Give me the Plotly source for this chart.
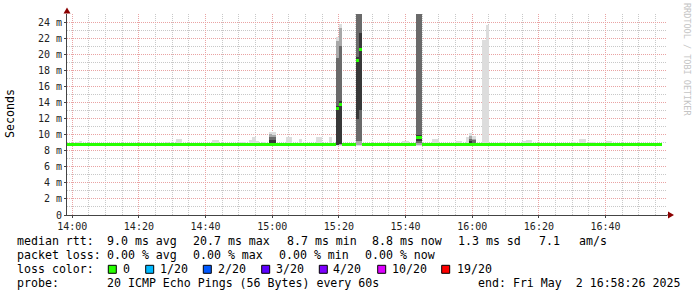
import pandas as pd
import plotly.graph_objects as go

# ---------------- data ----------------
DAY = "2025-05-02 "
# per-minute median RTT (ms) starting at 13:58
median_start = "13:58"
median_rtt = [
    8.8, 8.8,
    8.8, 8.8, 8.8, 8.8, 8.8, 8.8, 8.8, 8.8, 8.75, 8.75,   # 14:00
    8.75, 8.8, 8.8, 8.8, 8.8, 8.8, 8.8, 8.8, 8.8, 8.75,   # 14:10
    8.8, 8.8, 8.8, 8.8, 8.8, 8.8, 8.8, 8.8, 8.8, 8.8,   # 14:20
    8.8, 8.8, 8.8, 8.8, 8.8, 8.8, 8.8, 8.8, 8.8, 8.8,   # 14:30
    8.8, 8.8, 8.8, 8.8, 8.8, 8.8, 8.8, 8.8, 8.8, 8.8,   # 14:40
    8.8, 8.8, 8.8, 8.8, 8.8, 8.8, 8.8, 8.8, 8.8, 8.75,  # 14:50
    8.75, 8.8, 8.8, 8.8, 8.8, 8.8, 8.8, 8.8, 8.8, 8.8,  # 15:00
    8.8, 8.8, 8.8, 8.8, 8.8, 8.8, 8.8, 8.8, 8.8, 13.3,  # 15:10
    13.8, 8.8, 8.8, 8.8, 8.8, 19.2, 20.6, 8.8, 8.8, 8.8,  # 15:20
    8.8, 8.8, 8.8, 8.8, 8.8, 8.8, 8.8, 8.8, 8.8, 8.8,   # 15:30
    8.8, 8.8, 8.8, 9.6, 9.6, 8.8, 8.8, 8.8, 8.8, 8.8,   # 15:40
    8.8, 8.8, 8.8, 8.8, 8.8, 8.8, 8.8, 8.8, 8.8, 8.8,   # 15:50
    8.8, 8.8, 8.8, 8.8, 8.8, 8.8, 8.8, 8.8, 8.8, 8.8,   # 16:00
    8.8, 8.8, 8.8, 8.8, 8.8, 8.8, 8.8, 8.8, 8.8, 8.8,   # 16:10
    8.8, 8.8, 8.8, 8.8, 8.8, 8.8, 8.8, 8.8, 8.8, 8.8,   # 16:20
    8.8, 8.8, 8.8, 8.8, 8.8, 8.8, 8.8, 8.8, 8.8, 8.8,   # 16:30
    8.8, 8.8, 8.8, 8.8, 8.8, 8.8, 8.8, 8.8, 8.8, 8.8,   # 16:40
    8.8, 8.8, 8.8, 8.8, 8.8, 8.8, 8.8,                  # 16:50
]

# smoke (ping spread) for minutes that stick out of the median line
smoke_time = ["14:01", "14:02", "14:28", "14:31", "14:32", "14:42", "14:43", "14:50", "14:51",
              "14:53", "14:54", "14:55", "14:57", "14:59", "15:00", "15:04", "15:05", "15:08",
              "15:13", "15:14", "15:17", "15:19", "15:20", "15:25", "15:26", "15:39", "15:40",
              "15:43", "15:44", "15:48", "15:49", "15:55", "15:56", "15:58", "15:59", "16:00",
              "16:03", "16:04", "16:08", "16:09", "16:15", "16:16", "16:17", "16:30", "16:32",
              "16:33", "16:35", "16:36", "16:40", "16:41"]
smoke_min = [8.7, 8.7, 8.7, 8.7, 8.7, 8.7, 8.7, 8.7, 8.7,
             8.7, 8.7, 8.7, 8.7, 8.6, 8.6, 8.7, 8.7, 8.7,
             8.7, 8.7, 8.7, 8.6, 8.6, 8.6, 8.6, 8.7, 8.7,
             8.6, 8.6, 8.7, 8.7, 8.7, 8.7, 8.7, 8.6, 8.6,
             8.7, 8.7, 8.7, 8.7, 8.7, 8.7, 8.7, 8.7, 8.7,
             8.7, 8.7, 8.7, 8.7, 8.7]
smoke_max = [9.1, 9.2, 9.1, 9.45, 9.45, 9.3, 9.3, 9.1, 9.1,
             9.3, 9.65, 9.2, 9.1, 10.3, 10.3, 9.65, 9.65, 9.5,
             9.75, 9.65, 9.65, 22.1, 23.7, 30.0, 30.0, 9.2, 9.2,
             30.0, 30.0, 9.5, 9.4, 9.25, 9.25, 9.75, 10.2, 9.8,
             21.8, 23.6, 9.05, 9.05, 9.2, 9.3, 9.3, 9.1, 9.45,
             9.45, 9.1, 9.1, 9.2, 9.2]
# inner smoke layers, keyed by minute
mid_lo = {"14:59": 8.7, "15:00": 8.7, "15:19": 8.7, "15:20": 8.7, "15:25": 8.7, "15:26": 8.7,
          "15:43": 8.7, "15:44": 8.7, "15:59": 8.7, "16:00": 8.7}
mid_hi = {"14:59": 10.1, "15:00": 10.0, "15:19": 21.6, "15:20": 23.2, "15:25": 30.0, "15:26": 30.0,
          "15:43": 30.0, "15:44": 30.0, "15:59": 9.85, "16:00": 9.5}
inner_lo = {"14:59": 8.8, "15:00": 8.8, "15:19": 8.7, "15:20": 8.8, "15:25": 9.2, "15:26": 9.2,
            "15:43": 8.9, "15:44": 8.9, "15:59": 8.9, "16:00": 8.9}
inner_hi = {"14:59": 9.7, "15:00": 9.7, "15:19": 19.5, "15:20": 21.0, "15:25": 27.0, "15:26": 27.5,
            "15:43": 30.0, "15:44": 30.0, "15:59": 9.45, "16:00": 9.35}
core_lo = {"14:59": 9.0, "15:00": 9.0, "15:19": 8.7, "15:20": 8.8, "15:25": 12.0, "15:26": 13.0,
           "15:43": 9.2, "15:44": 9.2, "15:59": 9.0}
core_hi = {"14:59": 9.3, "15:00": 9.3, "15:19": 13.6, "15:20": 14.2, "15:25": 19.6, "15:26": 22.6,
           "15:43": 10.0, "15:44": 10.0, "15:59": 9.25}

y_tick_vals = [0, 2, 4, 6, 8, 10, 12, 14, 16, 18, 20, 22, 24]
y_tick_text = ["0", "2 m", "4 m", "6 m", "8 m", "10 m", "12 m", "14 m", "16 m", "18 m", "20 m", "22 m", "24 m"]
x_range = ["2025-05-02 13:58:26", "2025-05-02 16:58:26"]

loss_labels = ["0", "1/20", "2/20", "3/20", "4/20", "10/20", "19/20"]
loss_colors = ["#26ff00", "#00b8ff", "#0059ff", "#5e00ff", "#7e00ff", "#dd00ff", "#ff0000"]

legend_rows = [
    [("median rtt:", 16.7), ("9.0 ms avg", 107.3), ("20.7 ms max", 193.3), ("8.7 ms min", 286.7),
     ("8.8 ms now", 372.3), ("1.3 ms sd", 458.3), ("7.1", 539.0), ("am/s", 579.3)],
    [("packet loss:", 16.7), ("0.00 % avg", 107.3), ("0.00 % max", 193.3), ("0.00 % min", 279.3),
     ("0.00 % now", 365.0)],
    [("loss color:", 16.7)],
    [("probe:", 16.7), ("20 ICMP Echo Pings (56 Bytes) every 60s", 107.3),
     ("end: Fri May  2 16:58:26 2025", 478.3)],
]
loss_text_x = [123.3, 160.0, 218.3, 276.0, 333.3, 392.3, 456.7]
loss_box_x = [108.3, 145.7, 203.3, 261.7, 319.3, 377.7, 441.7]
row_y = [241.3, 254.7, 269.3, 283.2]

# ---------------- geometry helpers ----------------
W, H = 697, 297
L, R, T, B = 67, 30, 14, 82
PW, PH = W - L - R, H - T - B


def px(x):
    return (x - L) / PW


def py(y):
    return (H - B - y) / PH


HALF = pd.Timedelta(seconds=30)


def tcenter(hhmm):
    return pd.Timestamp(DAY + hhmm) + HALF


fig = go.Figure()


def add_layer(times, lo, hi, color):
    xs, bases, hs = [], [], []
    for t, a, b in zip(times, lo, hi):
        if a is None or b is None:
            continue
        xs.append(tcenter(t))
        bases.append(a)
        hs.append(b - a)
    fig.add_trace(go.Bar(x=xs, y=hs, base=bases, width=60000, marker=dict(color=color, line=dict(width=0)),
                         hoverinfo="skip", showlegend=False))


add_layer(smoke_time, smoke_min, smoke_max, "#dddddd")
add_layer(smoke_time, [mid_lo.get(t) for t in smoke_time], [mid_hi.get(t) for t in smoke_time], "#a8a8a8")
add_layer(smoke_time, [inner_lo.get(t) for t in smoke_time], [inner_hi.get(t) for t in smoke_time], "#6a6a6a")
add_layer(smoke_time, [core_lo.get(t) for t in smoke_time], [core_hi.get(t) for t in smoke_time], "#383838")

# median band
med_times = pd.date_range(DAY + median_start, periods=len(median_rtt), freq="min") + HALF
band = 0.19
fig.add_trace(go.Bar(x=med_times, y=[2 * band] * len(median_rtt), base=[m - band for m in median_rtt],
                     width=60000, marker=dict(color=loss_colors[0], line=dict(width=0)),
                     hoverinfo="skip", showlegend=False))

MONO = "DejaVu Sans Mono"
AXC = "#444444"
fig.update_layout(
    width=W, height=H, margin=dict(l=L, r=R, t=T, b=B, autoexpand=False),
    paper_bgcolor="white", plot_bgcolor="white",
    barmode="overlay", bargap=0, showlegend=False,
    font=dict(family=MONO, size=10, color="#222222"),
)
fig.update_xaxes(
    type="date", range=x_range, automargin=False,
    tick0="2025-05-02 14:00", dtick=20 * 60 * 1000, tickformat="%H:%M",
    showgrid=True, gridcolor="#e9a3a3", griddash="1px,1px", gridwidth=1,
    minor=dict(dtick=5 * 60 * 1000, tick0="2025-05-02 14:00", showgrid=True, gridcolor="#c8c8c8",
               griddash="1px,1px", gridwidth=1),
    showline=True, linecolor=AXC, linewidth=1,
    ticks="outside", ticklen=2, tickcolor=AXC,
    tickfont=dict(family=MONO, size=10, color="#222222"),
    zeroline=False, fixedrange=True,
)
fig.update_yaxes(
    range=[0, 25], automargin=False,
    tickmode="array", tickvals=y_tick_vals, ticktext=y_tick_text,
    showgrid=True, gridcolor="#e9a3a3", griddash="1px,1px", gridwidth=1,
    minor=dict(dtick=1, tick0=0, showgrid=True, gridcolor="#c8c8c8", griddash="1px,1px", gridwidth=1),
    showline=True, linecolor=AXC, linewidth=1,
    ticks="outside", ticklen=2, tickcolor=AXC,
    tickfont=dict(family=MONO, size=10, color="#222222"),
    zeroline=False, fixedrange=True,
)

shapes = []
# axis arrows
shapes.append(dict(type="path", xref="paper", yref="paper",
                   path=f"M {px(63.5)},{py(13.5)} L {px(70.5)},{py(13.5)} L {px(67)},{py(7.5)} Z",
                   fillcolor="#8b0000", line=dict(width=0)))
shapes.append(dict(type="path", xref="paper", yref="paper",
                   path=f"M {px(668)},{py(211.5)} L {px(668)},{py(218.5)} L {px(674)},{py(215)} Z",
                   fillcolor="#8b0000", line=dict(width=0)))
shapes.append(dict(type="line", xref="paper", yref="paper", x0=px(667), x1=px(668), y0=py(215), y1=py(215),
                   line=dict(color=AXC, width=1)))
# loss color boxes
for bx, col in zip(loss_box_x, loss_colors):
    shapes.append(dict(type="rect", xref="paper", yref="paper",
                       x0=px(bx), x1=px(bx + 8), y0=py(row_y[2] - 4), y1=py(row_y[2] + 4),
                       fillcolor=col, line=dict(color="#000000", width=1)))

ann = []
TXT = dict(family=MONO, size=11.6, color="#000000")
for row, yv in zip(legend_rows, row_y):
    for text, xv in row:
        ann.append(dict(text=text, x=px(xv - 1), y=py(yv), xref="paper", yref="paper",
                        xanchor="left", yanchor="middle", showarrow=False, font=TXT, borderpad=0))
for text, xv in zip(loss_labels, loss_text_x):
    ann.append(dict(text=text, x=px(xv - 1), y=py(row_y[2]), xref="paper", yref="paper",
                    xanchor="left", yanchor="middle", showarrow=False, font=TXT, borderpad=0))
ann.append(dict(text="Seconds", x=px(10), y=py(114), xref="paper", yref="paper", textangle=-90,
                xanchor="center", yanchor="middle", showarrow=False, font=dict(family=MONO, size=11.6, color="#000000")))
ann.append(dict(text="RRDTOOL / TOBI OETIKER", x=px(687), y=py(59), xref="paper", yref="paper", textangle=90,
                xanchor="center", yanchor="middle", showarrow=False, font=dict(family=MONO, size=8.5, color="#c4c4c4")))

fig.update_layout(shapes=shapes, annotations=ann)
fig.write_html("out.html")
